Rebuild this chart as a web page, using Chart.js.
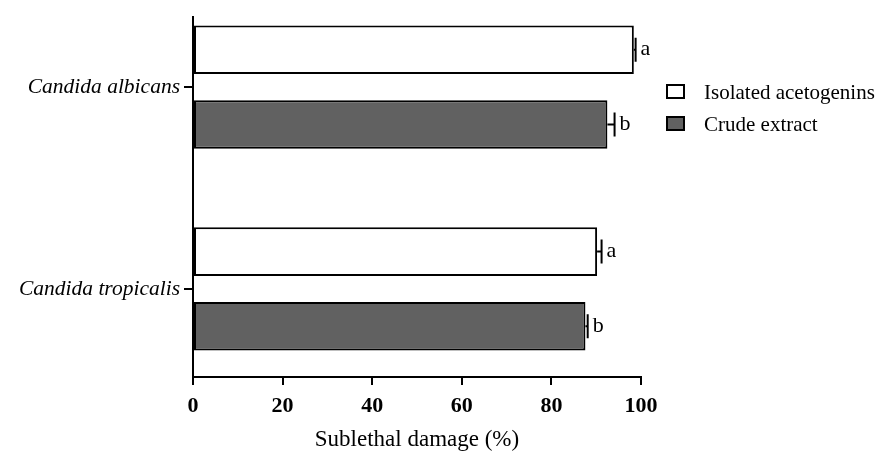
<!DOCTYPE html>
<html>
<head>
<meta charset="utf-8">
<script src="https://cdn.jsdelivr.net/npm/chart.js@4"></script>
<style>
  html, body { margin: 0; padding: 0; background: #fff; }
  #wrap { width: 876px; height: 454px; }
</style>
</head>
<body>
<div id="wrap"><canvas id="chart"></canvas></div>
<script>
const categories = ['Candida albicans', 'Candida tropicalis'];
const seriesNames = ['Isolated acetogenins', 'Crude extract'];
const isolatedValues = [98.4, 90.2];
const isolatedErrors = [0.4, 1.0];
const crudeValues = [92.5, 87.6];
const crudeErrors = [1.6, 0.5];
const isolatedLetters = ['a', 'a'];
const crudeLetters = ['b', 'b'];
const xTicks = [0, 20, 40, 60, 80, 100];

const serif = '"Liberation Serif", "DejaVu Serif", serif';

// error bars + significance letters
const errorBars = {
  id: 'errorBars',
  afterDatasetsDraw(chart) {
    const ctx = chart.ctx;
    const xs = chart.scales.x;
    chart.data.datasets.forEach((ds, di) => {
      const meta = chart.getDatasetMeta(di);
      meta.data.forEach((bar, i) => {
        const v = ds.data[i].x;
        const e = ds.errors[i];
        const xEnd = xs.getPixelForValue(v + e);
        const y = bar.y;
        ctx.save();
        ctx.strokeStyle = '#000';
        ctx.lineWidth = 2;
        ctx.beginPath();
        ctx.moveTo(bar.x, y);
        ctx.lineTo(xEnd, y);
        ctx.moveTo(xEnd, y - 12);
        ctx.lineTo(xEnd, y + 12);
        ctx.stroke();
        ctx.fillStyle = '#000';
        ctx.font = '22px ' + serif;
        ctx.textAlign = 'left';
        ctx.textBaseline = 'middle';
        ctx.fillText(ds.letters[i], xEnd + 5, y);
        ctx.restore();
      });
    });
  }
};

// legend drawn at the right of the plot
const sideLegend = {
  id: 'sideLegend',
  afterDraw(chart) {
    const ctx = chart.ctx;
    const x0 = 667, y0 = 85, gap = 32;
    chart.data.datasets.forEach((ds, i) => {
      const y = y0 + i * gap;
      ctx.save();
      ctx.fillStyle = ds.backgroundColor;
      ctx.strokeStyle = '#000';
      ctx.lineWidth = 2;
      ctx.fillRect(x0, y, 17, 13);
      ctx.strokeRect(x0, y, 17, 13);
      ctx.fillStyle = '#000';
      ctx.font = '21px ' + serif;
      ctx.textBaseline = 'middle';
      ctx.fillText(ds.label, x0 + 37, y + 8);
      ctx.restore();
    });
  }
};

const isolatedData = categories.map((c, i) => ({ x: isolatedValues[i], y: i }));
const crudeData = categories.map((c, i) => ({ x: crudeValues[i], y: i }));

new Chart(document.getElementById('chart'), {
  type: 'bar',
  data: {
    datasets: [
      {
        label: seriesNames[0],
        data: isolatedData,
        errors: isolatedErrors,
        letters: isolatedLetters,
        backgroundColor: '#ffffff',
        borderColor: '#000',
        borderWidth: 2,
        borderSkipped: false,
        barPercentage: 0.65,
        categoryPercentage: 0.74
      },
      {
        label: seriesNames[1],
        data: crudeData,
        errors: crudeErrors,
        letters: crudeLetters,
        backgroundColor: '#616161',
        borderColor: '#000',
        borderWidth: 2,
        borderSkipped: false,
        barPercentage: 0.65,
        categoryPercentage: 0.74
      }
    ]
  },
  options: {
    indexAxis: 'y',
    responsive: true,
    maintainAspectRatio: false,
    animation: false,
    layout: { padding: { top: 17, right: 235, left: 0, bottom: 0 } },
    plugins: { legend: { display: false }, tooltip: { enabled: false } },
    scales: {
      x: {
        type: 'linear',
        min: 0,
        max: 100,
        afterBuildTicks(scale) { scale.ticks = xTicks.map(v => ({ value: v })); },
        afterFit(scale) { scale.height = 77; },
        border: { display: true, color: '#000', width: 2 },
        grid: { drawOnChartArea: false, drawTicks: true, tickLength: 8, color: '#000', lineWidth: 2 },
        ticks: { color: '#000', font: { family: serif, size: 22, weight: 'bold' }, padding: 8 },
        title: {
          display: true,
          text: 'Sublethal damage (%)',
          color: '#000',
          font: { family: serif, size: 23 },
          padding: { top: 0, bottom: 0 }
        }
      },
      y: {
        type: 'linear',
        reverse: true,
        offset: false,
        min: -0.347,
        max: 1.436,
        afterBuildTicks(scale) { scale.ticks = categories.map((c, i) => ({ value: i })); },
        afterFit(scale) { scale.width = 193; },
        border: { display: true, color: '#000', width: 2 },
        grid: { offset: false, drawOnChartArea: false, drawTicks: true, tickLength: 9, color: '#000', lineWidth: 2 },
        ticks: {
          color: '#000',
          font: { family: serif, size: 21.5, style: 'italic' },
          padding: 4,
          callback: (v) => categories[v] || ''
        }
      }
    }
  },
  plugins: [errorBars, sideLegend]
});
</script>
</body>
</html>
